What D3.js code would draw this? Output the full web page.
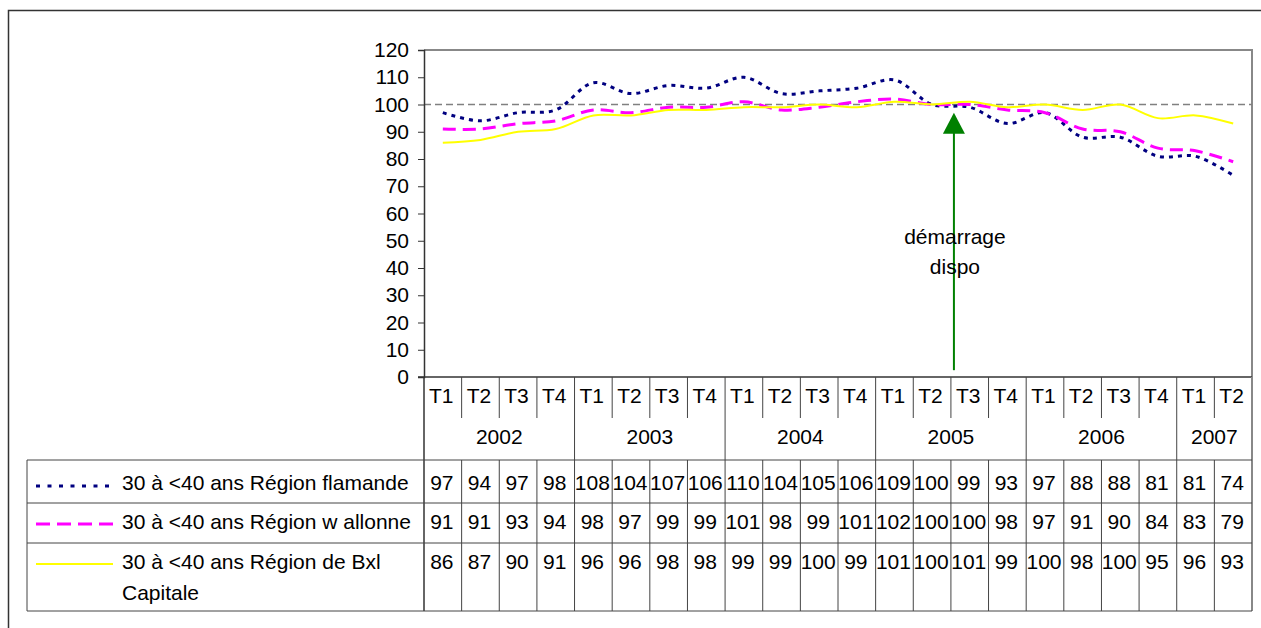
<!DOCTYPE html>
<html>
<head>
<meta charset="utf-8">
<script src="https://cdn.jsdelivr.net/npm/d3@7"></script>
<style>
  html, body { margin: 0; padding: 0; background: #fff; }
  svg { display: block; font-family: "Liberation Sans", Arial, sans-serif; }
</style>
</head>
<body>
<svg id="chart" width="1261" height="628"></svg>
<script>
// ---- data ----
const years = ["2002", "2003", "2004", "2005", "2006", "2007"];
const quartersPerYear = [4, 4, 4, 4, 4, 2];
const quarterLabels = ["T1","T2","T3","T4","T1","T2","T3","T4","T1","T2","T3","T4","T1","T2","T3","T4","T1","T2","T3","T4","T1","T2"];
const seriesNames = ["30 à <40 ans Région flamande", "30 à <40 ans Région w allonne", "30 à <40 ans Région de Bxl|Capitale"];
const flamande = [97, 94, 97, 98, 108, 104, 107, 106, 110, 104, 105, 106, 109, 100, 99, 93, 97, 88, 88, 81, 81, 74];
const wallonne = [91, 91, 93, 94, 98, 97, 99, 99, 101, 98, 99, 101, 102, 100, 100, 98, 97, 91, 90, 84, 83, 79];
const bruxelles = [86, 87, 90, 91, 96, 96, 98, 98, 99, 99, 100, 99, 101, 100, 101, 99, 100, 98, 100, 95, 96, 93];
const yTicks = [0, 10, 20, 30, 40, 50, 60, 70, 80, 90, 100, 110, 120];
const referenceValue = 100;
const annotationLines = ["démarrage", "dispo"];
const annotationPos = 14.08;       // category position (continuous)
const annotationFrom = 2.5, annotationTo = 97;
const annotationTextValues = [51.4, 40.4];

// ---- styles ----
const styles = [
  { color: "#000080", width: 3, dash: "4,5" },
  { color: "#FF00FF", width: 3, dash: "13,7" },
  { color: "#FFFF00", width: 2, dash: null }
];
const seriesData = [flamande, wallonne, bruxelles];

const svg = d3.select("#chart");
const FS = 21;
const pLeft = 424, pRight = 1252, pTop = 50, pBottom = 377;
const tableTop = 460, rowBounds = [460, 503, 543, 611];
const tableLeft = 27;
const gridColor = "#444";

// outer border
svg.append("rect").attr("x", 8.5).attr("y", 10.5).attr("width", 1400).attr("height", 700)
  .attr("fill", "none").attr("stroke", "#333").attr("stroke-width", 1.5);

const n = quarterLabels.length;
const x = d3.scaleBand().domain(d3.range(n)).range([pLeft, pRight]).padding(0);
const xc = d3.scaleLinear().domain([0, n]).range([pLeft, pRight]);
const y = d3.scaleLinear().domain([0, 120]).range([pBottom, pTop]);

// plot frame (top, right)
svg.append("path").attr("d", `M${pLeft},${pTop}H${pRight}V${pBottom}`)
  .attr("fill", "none").attr("stroke", "#888").attr("stroke-width", 2);

// reference line
svg.append("line").attr("x1", pLeft).attr("x2", pRight)
  .attr("y1", y(referenceValue)).attr("y2", y(referenceValue))
  .attr("stroke", "#808080").attr("stroke-width", 1.5).attr("stroke-dasharray", "7,4");

// y axis
const yAxis = svg.append("g").attr("transform", `translate(${pLeft},0)`)
  .call(d3.axisLeft(y).tickValues(yTicks).tickSize(6).tickPadding(9).tickFormat(d3.format("d")));
yAxis.select(".domain").attr("stroke", "#333").attr("stroke-width", 1.5);
yAxis.selectAll(".tick line").attr("stroke", "#333");
yAxis.selectAll("text").attr("font-size", FS).attr("fill", "#000").attr("font-family", "Liberation Sans, Arial, sans-serif");

// x axis baseline
svg.append("line").attr("x1", pLeft - 6).attr("x2", pRight).attr("y1", pBottom).attr("y2", pBottom)
  .attr("stroke", "#333").attr("stroke-width", 1.5);

// series lines
const line = d3.line().x((d, i) => x(i) + x.bandwidth() / 2).y(d => y(d)).curve(d3.curveCatmullRom.alpha(0.5));
seriesData.forEach((s, k) => {
  const p = svg.append("path").datum(s).attr("d", line)
    .attr("fill", "none").attr("stroke", styles[k].color).attr("stroke-width", styles[k].width);
  if (styles[k].dash) p.attr("stroke-dasharray", styles[k].dash);
});

// annotation arrow
const ax = xc(annotationPos);
const tipY = y(annotationTo);
svg.append("line").attr("x1", ax).attr("x2", ax).attr("y1", y(annotationFrom)).attr("y2", tipY + 20)
  .attr("stroke", "#008000").attr("stroke-width", 2);
svg.append("path").attr("d", `M${ax},${tipY}L${ax - 11},${tipY + 21}L${ax + 11},${tipY + 21}Z`)
  .attr("fill", "#008000");
annotationLines.forEach((t, i) => {
  svg.append("text").attr("x", ax + 1).attr("y", y(annotationTextValues[i])).attr("dy", "0.35em")
    .attr("text-anchor", "middle").attr("font-size", FS).text(t);
});

// category axis: quarter labels and separators
const g = svg.append("g");
quarterLabels.forEach((q, i) => {
  g.append("text").attr("x", x(i) + 5).attr("y", 403).attr("font-size", FS).text(q);
});
let idx = 0;
const yearStarts = [];
years.forEach((yr, j) => {
  yearStarts.push(idx);
  const cnt = quartersPerYear[j];
  g.append("text").attr("x", (xc(idx) + xc(idx + cnt)) / 2).attr("y", 444)
    .attr("text-anchor", "middle").attr("font-size", FS).text(yr);
  idx += cnt;
});
for (let i = 1; i < n; i++) {
  const isYear = yearStarts.includes(i);
  g.append("line").attr("x1", xc(i)).attr("x2", xc(i)).attr("y1", pBottom)
    .attr("y2", isYear ? rowBounds[3] : 418).attr("stroke", gridColor).attr("stroke-width", 1);
}
g.append("line").attr("x1", pLeft).attr("x2", pLeft).attr("y1", pBottom).attr("y2", rowBounds[3]).attr("stroke", "#333").attr("stroke-width", 1.5);
g.append("line").attr("x1", pRight).attr("x2", pRight).attr("y1", pBottom).attr("y2", rowBounds[3]).attr("stroke", "#888").attr("stroke-width", 2);

// data table
for (let i = 1; i < n; i++) {
  if (!yearStarts.includes(i)) {
    g.append("line").attr("x1", xc(i)).attr("x2", xc(i)).attr("y1", tableTop).attr("y2", rowBounds[3])
      .attr("stroke", gridColor).attr("stroke-width", 1);
  }
}
rowBounds.forEach(rb => {
  g.append("line").attr("x1", tableLeft).attr("x2", pRight).attr("y1", rb).attr("y2", rb)
    .attr("stroke", gridColor).attr("stroke-width", 1);
});
g.append("line").attr("x1", tableLeft).attr("x2", tableLeft).attr("y1", tableTop).attr("y2", rowBounds[3])
  .attr("stroke", gridColor).attr("stroke-width", 1);

const rowTextY = [[490], [529], [569, 600]];
const rowSampleY = [486, 524, 564];
seriesNames.forEach((name, k) => {
  const parts = name.split("|");
  parts.forEach((p, li) => {
    g.append("text").attr("x", 122).attr("y", rowTextY[k][li]).attr("font-size", FS).text(p);
  });
  const s = g.append("line").attr("x1", 36).attr("x2", 113).attr("y1", rowSampleY[k]).attr("y2", rowSampleY[k])
    .attr("stroke", styles[k].color).attr("stroke-width", styles[k].width);
  if (styles[k].dash) s.attr("stroke-dasharray", k === 0 ? "4,7.5" : "14,7");
  seriesData[k].forEach((v, i) => {
    g.append("text").attr("x", x(i) + x.bandwidth() / 2 - 1).attr("y", rowTextY[k][0])
      .attr("text-anchor", "middle").attr("font-size", FS).text(v);
  });
});
</script>
</body>
</html>
